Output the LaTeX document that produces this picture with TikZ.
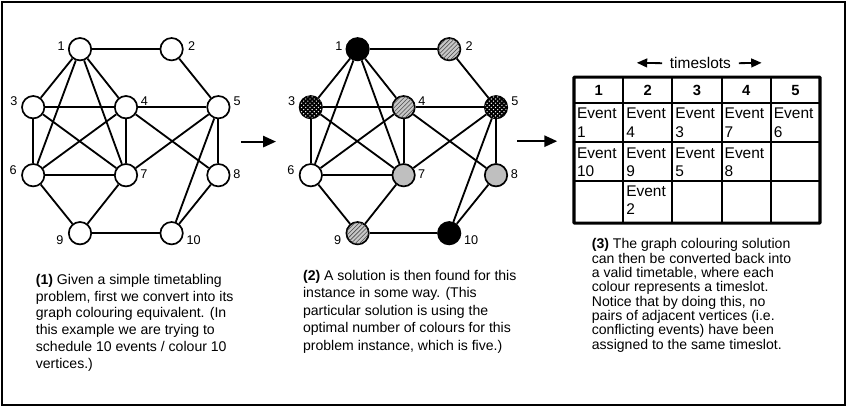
\documentclass[tikz,border=0pt]{standalone}
\usepackage{fontspec}
\setmainfont{Liberation Sans}
\usepackage{tikz}
\usetikzlibrary{arrows.meta,positioning,patterns}
\pgfdeclarelayer{edgelayer}
\pgfdeclarelayer{nodelayer}
\pgfsetlayers{edgelayer,nodelayer,main}
\tikzstyle{vertex}=[circle,draw=black,fill=white,line width=1.2pt,minimum size=0.56cm,inner sep=0pt]
\tikzstyle{blackvertex}=[vertex,fill=black]
\tikzstyle{greyvertex}=[vertex,fill=black!25]
\tikzstyle{hatchvertex}=[vertex,fill=black!22,postaction={pattern=north east lines,pattern color=black!70}]
\tikzstyle{dotvertex}=[vertex,fill=black,postaction={pattern=crosshatch dots,pattern color=white}]
\tikzstyle{vlabel}=[inner sep=0pt,font=\fontsize{9}{10}\selectfont]
\tikzstyle{link}=[-,draw=black,line width=1.3pt]
\tikzstyle{steparrow}=[-{Triangle[length=0.32cm,width=0.28cm]},line width=1.3pt]
\tikzstyle{tsarrow}=[-{Triangle[length=0.26cm,width=0.22cm]},line width=1.3pt]
\tikzstyle{frame}=[draw=black,line width=1.2pt]
\tikzstyle{gridline}=[-,draw=black,line width=1.3pt]
\tikzstyle{gridouter}=[draw=black,line width=2.2pt,rounded corners=0.5pt]
\tikzstyle{head}=[inner sep=0pt,font=\fontsize{10.5}{12}\selectfont\bfseries]
\tikzstyle{cell}=[inner sep=0pt,anchor=north west,align=left,font=\fontsize{11}{13}\selectfont]
\tikzstyle{caption}=[inner sep=0pt,anchor=north west,align=left,font=\fontsize{10}{11.9}\selectfont]
\tikzstyle{none}=[inner sep=0pt]

\begin{document}
\begin{tikzpicture}
	\useasboundingbox (0,0) rectangle (21.25,-10.225);
	\begin{pgfonlayer}{nodelayer}
		\node [style=vertex] (a1) at (2.0,-1.23) {};
		\node [style=vertex] (a2) at (4.29,-1.23) {};
		\node [style=vertex] (a3) at (0.83,-2.68) {};
		\node [style=vertex] (a4) at (3.15,-2.68) {};
		\node [style=vertex] (a5) at (5.46,-2.68) {};
		\node [style=vertex] (a6) at (0.83,-4.38) {};
		\node [style=vertex] (a7) at (3.15,-4.38) {};
		\node [style=vertex] (a8) at (5.46,-4.38) {};
		\node [style=vertex] (a9) at (2.0,-5.83) {};
		\node [style=vertex] (a10) at (4.29,-5.83) {};

		\node [style=vlabel] (la1) at (1.53,-1.16) {1};
		\node [style=vlabel] (la2) at (4.79,-1.15) {2};
		\node [style=vlabel] (la3) at (0.35,-2.53) {3};
		\node [style=vlabel] (la4) at (3.61,-2.53) {4};
		\node [style=vlabel] (la5) at (5.93,-2.53) {5};
		\node [style=vlabel] (la6) at (0.33,-4.25) {6};
		\node [style=vlabel] (la7) at (3.6,-4.35) {7};
		\node [style=vlabel] (la8) at (5.92,-4.35) {8};
		\node [style=vlabel] (la9) at (1.5,-6.0) {9};
		\node [style=vlabel] (la10) at (4.84,-6.0) {10};

		\node [style=blackvertex] (b1) at (8.94,-1.23) {};
		\node [style=hatchvertex] (b2) at (11.23,-1.23) {};
		\node [style=dotvertex] (b3) at (7.77,-2.68) {};
		\node [style=hatchvertex] (b4) at (10.09,-2.68) {};
		\node [style=dotvertex] (b5) at (12.40,-2.68) {};
		\node [style=vertex] (b6) at (7.77,-4.38) {};
		\node [style=greyvertex] (b7) at (10.09,-4.38) {};
		\node [style=greyvertex] (b8) at (12.40,-4.38) {};
		\node [style=hatchvertex] (b9) at (8.94,-5.83) {};
		\node [style=blackvertex] (b10) at (11.23,-5.83) {};

		\node [style=vlabel] (lb1) at (8.47,-1.16) {1};
		\node [style=vlabel] (lb2) at (11.73,-1.15) {2};
		\node [style=vlabel] (lb3) at (7.29,-2.53) {3};
		\node [style=vlabel] (lb4) at (10.55,-2.53) {4};
		\node [style=vlabel] (lb5) at (12.87,-2.53) {5};
		\node [style=vlabel] (lb6) at (7.27,-4.25) {6};
		\node [style=vlabel] (lb7) at (10.54,-4.35) {7};
		\node [style=vlabel] (lb8) at (12.86,-4.35) {8};
		\node [style=vlabel] (lb9) at (8.44,-6.0) {9};
		\node [style=vlabel] (lb10) at (11.78,-6.0) {10};

		\coordinate (s1start) at (6.02,-3.54);
		\coordinate (s1end) at (6.9,-3.54);
		\coordinate (s2start) at (12.93,-3.53);
		\coordinate (s2end) at (13.93,-3.53);

		\node [style=none, inner xsep=5.4pt, font=\fontsize{11}{13}\selectfont] (ts) at (17.51,-1.58) {timeslots};
		\coordinate (tsL) at (15.92,-1.57);
		\coordinate (tsR) at (19.04,-1.57);

		\node [style=head] (h1) at (14.965,-2.255) {1};
		\node [style=head] (h2) at (16.195,-2.255) {2};
		\node [style=head] (h3) at (17.425,-2.255) {3};
		\node [style=head] (h4) at (18.655,-2.255) {4};
		\node [style=head] (h5) at (19.885,-2.255) {5};

		\node [style=cell] (e11) at (14.42,-2.70) {Event\\1};
		\node [style=cell] (e12) at (15.65,-2.70) {Event\\4};
		\node [style=cell] (e13) at (16.88,-2.70) {Event\\3};
		\node [style=cell] (e14) at (18.11,-2.70) {Event\\7};
		\node [style=cell] (e15) at (19.34,-2.70) {Event\\6};
		\node [style=cell] (e21) at (14.42,-3.68) {Event\\10};
		\node [style=cell] (e22) at (15.65,-3.68) {Event\\9};
		\node [style=cell] (e23) at (16.88,-3.68) {Event\\5};
		\node [style=cell] (e24) at (18.11,-3.68) {Event\\8};
		\node [style=cell] (e32) at (15.65,-4.64) {Event\\2};

		\node [style=caption] (c1) at (0.89,-6.85) {\textbf{(1)} Given a simple timetabling\\problem, first we convert into its\\graph colouring equivalent. (In\\this example we are trying to\\schedule 10 events / colour 10\\vertices.)};
		\node [style=caption, font=\fontsize{10}{12.4}\selectfont] (c2) at (7.57,-6.75) {\textbf{(2)} A solution is then found for this\\instance in some way. (This\\particular solution is using the\\optimal number of colours for this\\problem instance, which is five.)};
		\node [style=caption, font=\fontsize{10}{10.2}\selectfont] (c3) at (14.79,-5.96) {\textbf{(3)} The graph colouring solution\\can then be converted back into\\a valid timetable, where each\\colour represents a timeslot.\\Notice that by doing this, no\\pairs of adjacent vertices (i.e.\\conflicting events) have been\\assigned to the same timeslot.};
	\end{pgfonlayer}
	\begin{pgfonlayer}{edgelayer}
		\draw [style=frame] (0.05,-0.05) rectangle (21.12,-10.12);

		\draw [style=link] (a1) to (a2);
		\draw [style=link] (a1) to (a3);
		\draw [style=link] (a1) to (a4);
		\draw [style=link] (a1) to (a6);
		\draw [style=link] (a1) to (a7);
		\draw [style=link] (a2) to (a5);
		\draw [style=link] (a3) to (a4);
		\draw [style=link] (a3) to (a6);
		\draw [style=link] (a3) to (a7);
		\draw [style=link] (a4) to (a5);
		\draw [style=link] (a4) to (a6);
		\draw [style=link] (a4) to (a7);
		\draw [style=link] (a4) to (a8);
		\draw [style=link] (a5) to (a7);
		\draw [style=link] (a5) to (a8);
		\draw [style=link] (a5) to (a10);
		\draw [style=link] (a6) to (a7);
		\draw [style=link] (a6) to (a9);
		\draw [style=link] (a7) to (a9);
		\draw [style=link] (a8) to (a10);
		\draw [style=link] (a9) to (a10);

		\draw [style=link] (b1) to (b2);
		\draw [style=link] (b1) to (b3);
		\draw [style=link] (b1) to (b4);
		\draw [style=link] (b1) to (b6);
		\draw [style=link] (b1) to (b7);
		\draw [style=link] (b2) to (b5);
		\draw [style=link] (b3) to (b4);
		\draw [style=link] (b3) to (b6);
		\draw [style=link] (b3) to (b7);
		\draw [style=link] (b4) to (b5);
		\draw [style=link] (b4) to (b6);
		\draw [style=link] (b4) to (b7);
		\draw [style=link] (b4) to (b8);
		\draw [style=link] (b5) to (b7);
		\draw [style=link] (b5) to (b8);
		\draw [style=link] (b5) to (b10);
		\draw [style=link] (b6) to (b7);
		\draw [style=link] (b6) to (b9);
		\draw [style=link] (b7) to (b9);
		\draw [style=link] (b8) to (b10);
		\draw [style=link] (b9) to (b10);

		\draw [style=steparrow] (s1start) to (s1end);
		\draw [style=steparrow] (s2start) to (s2end);
		\draw [style=tsarrow] (ts.west) to (tsL);
		\draw [style=tsarrow] (ts.east) to (tsR);

		\draw [style=gridline] (15.58,-1.93) to (15.58,-5.58);
		\draw [style=gridline] (16.81,-1.93) to (16.81,-5.58);
		\draw [style=gridline] (18.04,-1.93) to (18.04,-5.58);
		\draw [style=gridline] (19.27,-1.93) to (19.27,-5.58);
		\draw [style=gridline] (14.35,-2.58) to (20.5,-2.58);
		\draw [style=gridline] (14.35,-3.56) to (20.5,-3.56);
		\draw [style=gridline] (14.35,-4.52) to (20.5,-4.52);
		\draw [style=gridouter] (14.35,-1.93) rectangle (20.5,-5.58);
	\end{pgfonlayer}
\end{tikzpicture}
\end{document}
